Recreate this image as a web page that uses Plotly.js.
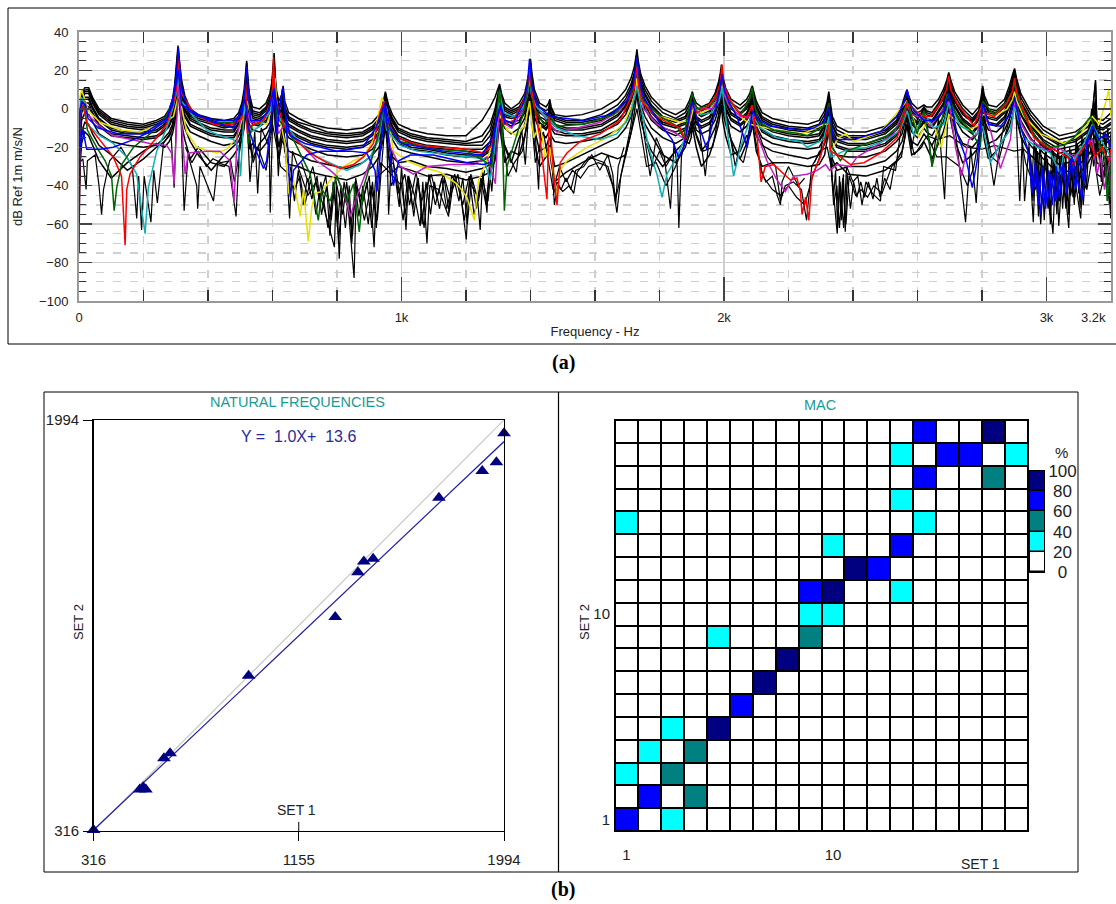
<!DOCTYPE html>
<html><head><meta charset="utf-8">
<script src="https://cdn.plot.ly/plotly-3.0.1.min.js"></script>
<style>html,body{margin:0;padding:0;background:#fff}#c{width:1116px;height:904px}</style>
</head><body><div id="c"></div>
<script>
// Frequency lines shared by the black response bundle
const bundleHz=[0,3,8,18,30,42,62,100,150,200,240, 265,280,290,297,302,307,312,318,328,345,370, 410,450,480, 495,505,512,517,520,523,528,538, 560,580, 592,598,602,605,608,613,620, 628,633,638, 650,680,720,770,830,880, 910,930,940,946,950,954,960,972,990, 1030,1080,1140,1200,1250, 1275,1290,1298,1304,1310,1320,1340, 1365,1382,1392,1397,1400,1404,1412,1428, 1448,1456,1460,1464,1475, 1510,1560,1620,1670, 1695,1712,1722,1727,1730,1734,1742,1755,1775, 1810,1850,1880, 1892,1898,1902,1906,1914,1930, 1955,1972,1983,1989,1992,1996,2005,2022, 2050,2070, 2080,2085,2088,2092,2100,2118, 2150,2200,2260,2295, 2312,2320,2325,2329,2336,2350, 2385,2440,2500,2535, 2552,2561,2567,2572,2582,2600, 2612,2620,2628,2645, 2665,2680,2691,2697,2703,2715,2740, 2770,2790, 2797,2802,2807,2820,2845, 2870,2885,2895,2901,2907,2920,2950, 2990,3040,3090,3130, 3142,3152,3156,3175,3200];
const bundleA=[-25,-2,8,11,11,6,0,-5,-7,-8,-6, -4,0,5,13,22,33,24,15,7,0,-3, -5,-6,-5, -2,3,10,18,25,18,8,1, 0,3, 8,14,21,29,18,9,4, 7,12,4, -2,-5,-8,-10,-11,-10, -7,-3,1,5,9,6,2,-3,-8, -11,-13,-14,-14,-6, 1,6,10,13,8,3,0, 3,8,15,20,26,19,10,3, 1,3,5,1,-3, -4,-3,0,5, 10,16,22,27,31,25,18,12,6, 0,-3,0, 4,7,9,6,3,1, 3,8,14,19,23,17,11,5, 2,5, 8,11,12,9,4,-2, -5,-7,-8,-6, -1,4,9,4,-4,-9, -12,-12,-9,-4, 2,7,10,7,3,0, 1,2,1,1, 5,10,15,19,15,9,2, -3,1, 6,12,7,2,1, 5,12,18,21,16,8,-1, -9,-14,-12,-7, -3,15,-5,-6,-2];
const bundleB=[-35,-4,6,10,10,5,-1,-6,-8,-9,-7, -5,-2,3,11,20,31,22,13,5,-2,-4, -6,-8,-7, -4,1,8,16,24,15,6,-1, -2,1, 6,12,19,27,15,7,2, 4,9,1, -4,-7,-9,-12,-13,-12, -9,-5,-1,3,8,5,0,-5,-10, -13,-15,-16,-17,-14, -8,0,7,12,6,1,-1, 1,6,13,18,24,17,8,1, -1,0,3,0,-4, -6,-6,-3,2, 7,13,19,25,29,23,16,10,4, -2,-5,-2, 2,5,8,4,1,-1, 1,6,12,17,21,15,9,3, 0,3, 6,9,11,7,2,-4, -7,-9,-10,-8, -3,2,7,2,-6,-11, -14,-14,-11,-6, 0,5,9,5,1,-2, -1,1,-1,-2, 3,8,13,18,13,7,0, -5,-1, 4,11,5,0,-1, 3,10,16,20,14,6,-3, -11,-16,-14,-9, -5,5,-7,-8,-5];
const bundleBC=[-40,-5,5,9,9,4,-2,-7,-9,-10,-8, -6,-3,2,10,18,29,20,11,3,-3,-5, -7,-9,-8, -5,0,6,14,22,13,4,-2, -3,0, 4,10,17,25,13,5,1, 3,7,-1, -5,-8,-11,-13,-14,-13, -10,-6,-2,2,7,4,-1,-6,-11, -14,-16,-17,-18,-17, -11,-2,5,10,5,0,-2, 0,5,12,17,23,15,6,-1, -3,-2,1,-2,-5, -7,-7,-5,0, 5,11,17,23,27,21,14,8,2, -4,-6,-4, 0,3,7,3,-1,-3, -1,4,10,15,19,13,7,1, -2,1, 4,7,10,6,1,-5, -8,-10,-11,-10, -5,1,6,1,-8,-13, -15,-15,-12,-7, -2,3,8,4,-1,-4, -2,0,-2,-3, 2,6,12,17,12,5,-2, -6,-2, 3,10,4,-1,-2, 2,8,14,19,13,4,-5, -13,-18,-16,-11, -6,2,-9,-10,-7];
const bundleC=[-45,-7,4,8,8,3,-3,-8,-10,-11,-9, -7,-4,1,9,17,28,19,10,2,-4,-6, -8,-10,-9, -6,-1,5,13,21,12,3,-3, -4,-1, 3,9,16,24,12,4,0, 2,6,-2, -6,-9,-12,-14,-15,-14, -11,-7,-3,1,6,3,-2,-7,-12, -15,-17,-18,-19,-19, -14,-5,3,9,4,-1,-3, -1,4,11,16,22,14,5,-2, -4,-3,-1,-3,-6, -8,-8,-6,-1, 4,10,16,22,26,20,13,7,1, -5,-7,-5, -1,2,6,2,-2,-4, -2,3,9,14,18,12,6,0, -3,0, 3,6,9,5,0,-6, -9,-11,-12,-11, -6,0,5,0,-9,-14, -16,-16,-13,-8, -3,2,7,3,-2,-5, -3,-1,-3,-4, 1,5,11,16,11,4,-3, -7,-3, 2,9,3,-2,-3, 1,7,13,18,12,3,-6, -14,-19,-17,-12, -7,0,-10,-11,-8];
const bundleCD=[-50,-9,2,6,6,1,-5,-10,-12,-12,-11, -8,-5,-1,7,15,26,17,8,0,-5,-7, -10,-11,-11, -7,-3,3,11,19,10,1,-4, -5,-3, 1,7,14,22,10,2,-2, 0,4,-4, -8,-11,-14,-16,-17,-16, -13,-9,-5,-1,4,1,-4,-9,-14, -17,-19,-20,-21,-21, -17,-7,1,7,2,-3,-4, -3,2,9,14,20,12,3,-4, -6,-5,-3,-5,-8, -10,-10,-8,-3, 2,8,14,20,24,18,11,5,-1, -7,-9,-7, -3,0,5,0,-4,-6, -4,1,7,12,16,10,4,-2, -5,-2, 1,4,7,3,-2,-8, -11,-13,-14,-13, -8,-2,3,-3,-11,-16, -18,-18,-15,-10, -5,0,6,1,-4,-7, -5,-3,-5,-6, -1,3,9,14,9,2,-5, -9,-5, 0,7,1,-4,-5, -1,5,11,16,9,1,-8, -16,-21,-19,-14, -9,-3,-12,-13,-10];
const bundleD=[-55,-10,1,5,5,0,-6,-11,-13,-13,-12, -9,-6,-2,6,14,25,15,7,-1,-6,-8, -11,-12,-12, -8,-4,2,10,18,9,0,-5, -6,-4, 0,6,13,21,9,1,-3, -1,3,-5, -9,-12,-15,-17,-18,-17, -14,-10,-6,-2,3,0,-5,-10,-15, -18,-20,-21,-22,-23, -19,-9,0,6,1,-4,-5, -4,1,8,13,18,11,2,-5, -8,-6,-5,-7,-9, -11,-11,-9,-4, 1,7,13,19,23,16,10,4,-2, -8,-10,-8, -4,-1,4,-1,-5,-7, -5,0,6,11,15,9,3,-3, -6,-3, 0,3,6,2,-3,-9, -12,-14,-15,-14, -9,-3,2,-4,-13,-17, -19,-19,-16,-11, -7,-1,5,0,-5,-8, -6,-4,-6,-7, -2,2,8,13,8,1,-6, -10,-6, -1,6,0,-5,-6, -2,4,10,15,8,0,-9, -17,-23,-21,-15, -10,-6,-14,-15,-12];
const bundleDE=[-60,-12,0,3,3,-2,-8,-13,-14,-15,-14, -11,-8,-4,4,12,23,13,5,-3,-8,-10, -13,-14,-14, -10,-6,0,8,16,7,-2,-7, -8,-6, -2,4,11,19,7,0,-5, -3,1,-7, -11,-14,-17,-19,-20,-19, -16,-12,-8,-4,1,-2,-7,-12,-17, -20,-21,-23,-24,-24, -21,-11,-2,4,-1,-6,-7, -6,-1,6,11,16,9,0,-7, -10,-8,-7,-9,-11, -13,-13,-11,-6, -1,5,11,17,21,14,8,2,-4, -10,-12,-10, -6,-3,2,-2,-7,-9, -7,-2,4,9,13,7,1,-5, -8,-5, -2,1,4,0,-5,-11, -14,-16,-17,-16, -11,-5,0,-6,-15,-19, -21,-21,-18,-13, -9,-3,3,-2,-7,-10, -8,-6,-8,-9, -4,0,6,11,6,-1,-8, -12,-8, -3,4,-2,-7,-8, -4,2,8,13,6,-2,-11, -19,-25,-23,-17, -12,-8,-16,-17,-14];
const bundleE=[-65,-14,-2,2,1,-3,-9,-14,-15,-16,-15, -12,-9,-5,3,11,21,12,3,-4,-9,-11, -14,-15,-15, -11,-7,-1,7,15,5,-4,-8, -9,-7, -3,3,10,18,5,-2,-6, -4,0,-8, -12,-15,-18,-20,-21,-20, -17,-13,-9,-5,0,-3,-8,-13,-18, -21,-22,-24,-25,-25, -22,-13,-4,3,-2,-7,-9, -7,-2,5,10,15,8,-1,-8, -11,-9,-8,-10,-13, -14,-14,-12,-8, -3,4,10,15,19,13,6,0,-6, -11,-14,-11, -7,-4,1,-3,-8,-10, -8,-3,3,8,12,5,0,-6, -9,-6, -3,0,3,-1,-6,-12, -15,-17,-18,-17, -12,-6,-1,-7,-16,-20, -22,-22,-19,-14, -10,-4,2,-3,-8,-11, -9,-7,-9,-10, -5,-1,5,10,5,-2,-9, -13,-9, -4,3,-3,-8,-9, -5,1,7,12,5,-3,-12, -20,-26,-24,-18, -13,-10,-18,-19,-16];
const bundleF=[-75,-18,-6,-2,-3,-7,-13,-17,-19,-20,-19, -15,-12,-8,0,7,17,8,0,-7,-12,-14, -17,-19,-18, -14,-10,-4,4,11,1,-8,-11, -12,-10, -7,0,6,14,2,-6,-9, -8,-3,-11, -15,-18,-21,-24,-25,-24, -21,-16,-12,-8,-3,-6,-11,-16,-21, -23,-25,-27,-28,-27, -25,-17,-8,-1,-5,-10,-13, -10,-5,2,7,12,5,-4,-11, -15,-12,-11,-14,-17, -18,-17,-15,-11, -7,0,6,11,15,9,2,-4,-10, -15,-18,-15, -11,-7,-2,-6,-11,-13, -11,-6,0,5,9,2,-3,-9, -12,-9, -6,-3,0,-4,-9,-15, -18,-20,-21,-20, -15,-9,-4,-10,-20,-24, -25,-25,-22,-17, -13,-7,-1,-6,-12,-15, -12,-10,-12,-14, -8,-4,2,7,2,-5,-12, -16,-12, -7,0,-6,-11,-12, -8,-2,4,9,2,-6,-15, -23,-29,-27,-20, -16,-14,-22,-23,-20];
const bundleG=[-30,-25,-12,-7,-8,-13,-19,-24,-32,-26,-20, -17,-14,-10,-3,5,14,5,-3,-10,-17,-24, -32,-24,-19, -17,-13,-7,1,8,-2,-16,-26, -18,-14, -10,-4,3,11,-3,-12,-20, -13,-7,-16, -22,-24,-27,-29,-31,-28, -24,-20,-15,-11,-6,-9,-16,-25,-28, -27,-30,-31,-33,-31, -29,-22,-12,-4,-10,-20,-28, -15,-8,-2,3,9,1,-10,-22, -20,-16,-15,-20,-30, -28,-24,-19,-15, -10,-4,3,8,12,6,-1,-8,-14, -24,-28,-20, -14,-11,-5,-9,-14,-22, -16,-10,-4,2,6,-1,-8,-16, -26,-18, -10,-7,-3,-7,-14,-19, -22,-24,-26,-24, -18,-12,-7,-14,-26,-32, -30,-30,-27,-22, -17,-11,-4,-10,-17,-19, -15,-13,-15,-19, -12,-7,-1,4,-2,-10,-18, -20,-16, -10,-3,-10,-18,-16, -11,-5,1,6,-1,-10,-19, -26,-34,-31,-24, -20,-18,-28,-30,-26];
const bundleH=[-45,-30,-18,-12,-14,-19,-27,-36,-28,-22,-18, -20,-17,-13,-7,1,10,1,-8,-16,-26,-20, -28,-30,-24, -20,-16,-10,-2,4,-6,-21,-18, -22,-18, -13,-8,-1,7,-8,-17,-26, -18,-11,-22, -29,-30,-33,-35,-37,-34, -30,-25,-19,-14,-10,-14,-24,-33,-30, -32,-35,-34,-37,-35, -33,-27,-17,-8,-16,-28,-22, -24,-14,-6,-1,6,-3,-18,-30, -25,-20,-19,-28,-38, -33,-28,-23,-26, -24,-12,-2,4,8,2,-6,-14,-22, -30,-22,-17, -18,-15,-9,-13,-20,-30, -24,-15,-8,-2,2,-6,-14,-24, -22,-14, -14,-11,-6,-12,-22,-30, -28,-28,-30,-29, -24,-16,-11,-18,-30,-28, -34,-35,-32,-27, -22,-15,-8,-14,-24,-22, -20,-17,-20,-26, -18,-12,-5,1,-6,-16,-28, -24,-20, -14,-7,-16,-26,-22, -15,-9,-3,2,-5,-14,-24, -30,-38,-36,-28, -24,-24,-34,-36,-30];
// Black curves with their own notches: flat lists of Hz, dB pairs
const deepA=[2,-28,12,-26,22,-42,26,-27,50,-24,62,-40,70,-55,76,-42,95,-27,130,-20,165,-30,179,-57,185,-35,194,-63,202,-35,223,-59,232,-32,243,-49,262,-18,285,-12,295,-41,302,-5,308,10,316,-3,326,-53,338,-24,365,-40,368,-52,375,-30,417,-48,430,-28,465,-30,487,-56,498,-18,515,5,524,-15,530,-38,545,-12,554,-44,565,-10,590,-20,593,-54,603,12,612,-8,618,-35,625,-15,640,-20,653,-57,662,-22,690,-35,710,-45,735,-38,760,-52,792,-72,798,-40,807,-78,815,-42,835,-52,853,-88,860,-40,880,-48,900,-35,915,-72,925,-30,945,0,955,-18,960,-55,970,-22,993,-51,1000,-30,1014,-63,1022,-35,1040,-45,1058,-61,1066,-38,1079,-70,1088,-40,1115,-42,1146,-56,1155,-35,1180,-40,1201,-68,1210,-38,1235,-45,1244,-63,1252,-33,1265,-54,1272,-30,1280,-43,1298,-2,1305,8,1318,-18,1335,-25,1356,-33,1372,-10,1384,-29,1400,15,1412,-5,1425,-42,1432,-10,1452,-8,1458,2,1466,-25,1474,-50,1484,-40,1500,-43,1520,-40,1534,-44,1545,-33,1580,-25,1630,-28,1655,-40,1668,-54,1680,-35,1710,-10,1730,15,1745,-5,1771,-35,1790,-15,1815,-25,1834,-52,1845,-18,1855,-30,1860,-62,1868,-25,1890,-8,1902,5,1925,-12,1942,-35,1958,-8,1992,15,2010,-5,2035,-30,2060,-10,2088,8,2105,-12,2135,-25,2160,-30,2175,-48,2190,-40,2215,-38,2240,-42,2256,-58,2272,-30,2300,-22,2325,3,2335,-35,2351,-65,2360,-38,2371,-62,2380,-30,2400,-38,2415,-35,2428,-50,2440,-38,2460,-44,2485,-48,2495,-30,2532,-32,2545,-15,2567,5,2581,-21,2600,-5,2630,-8,2645,-30,2665,-5,2684,-47,2697,10,2720,-15,2749,-59,2765,-20,2782,-49,2802,8,2815,-15,2837,-40,2860,-15,2901,15,2917,-48,2925,-15,2932,-48,2945,-20,2959,-59,2968,-20,2982,-60,2995,-25,3020,-65,3030,-25,3038,-61,3050,-30,3069,-62,3078,-25,3106,-57,3118,-20,3142,-2,3152,14,3158,-20,3175,-35,3188,-25,3199,-57,3200,-30];
const deepB=[330,-20,350,-28,370,-22,395,-30,415,-26,440,-28,470,-27,482,-38,500,-20,519,-2,540,-28,555,-20,580,-32,600,-8,625,-30,650,-34,668,-42,685,-35,700,-50,718,-37,735,-55,750,-38,772,-62,790,-40,805,-68,822,-38,842,-60,865,-42,885,-58,905,-40,925,-58,940,-25,950,-5,968,-40,985,-34,1005,-58,1020,-35,1035,-52,1050,-36,1070,-62,1085,-34,1105,-50,1125,-36,1140,-52,1165,-34,1190,-50,1210,-35,1225,-55,1250,-36,1268,-48,1285,-20,1305,-5,1330,-35,1350,-28,1375,-22,1400,2,1415,-28,1440,-12,1470,-42,1490,-30,1510,-38,1530,-32,1555,-36,1580,-30,1610,-28,1640,-30,1665,-46,1690,-28,1730,0,1760,-30,1790,-28,1820,-40,1850,-30,1902,-8,1935,-22,1965,-20,1992,5,2030,-22,2060,-28,2088,-8,2120,-35,2150,-42,2175,-45,2200,-40,2225,-46,2250,-50,2275,-35,2325,-12,2340,-50,2350,-40,2358,-62,2368,-36,2378,-60,2388,-35,2408,-45,2425,-42,2445,-46,2465,-40,2490,-44,2520,-30,2550,-25,2567,-8,2590,-24,2630,-14,2660,-25,2690,-25,2730,-30,2755,-40,2775,-30,2802,-2,2830,-25,2850,-28,2901,5,2935,-28,2965,-42,2985,-30,3005,-52,3015,-32,3040,-48,3055,-28,3075,-45,3090,-30,3125,-42,3145,-22,3165,-45,3185,-30,3195,-50];
const flatTail=[2630,-14,2660,-16,2700,-14,2750,-20,2800,-21,2840,-19,2880,-21,2899,-22,2930,-21,2950,-25,2962,-44,2972,-22,2985,-50,2995,-24,3010,-55,3022,-26,3035,-50,3046,-24,3060,-52,3072,-26,3088,-46,3100,-20,3114,-50,3130,-14,3140,0,3150,-24,3165,-8,3175,-40,3190,-10,3200,-34];
const noiseA=[690,-28,710,-38,725,-30,745,-47,765,-35,782,-58,795,-36,818,-55,830,-38,848,-66,858,-36,875,-52,893,-38,908,-62,920,-36,975,-28,990,-44,1010,-34,1025,-50,1045,-33,1062,-48,1092,-34,1110,-46,1130,-34,1150,-46,1175,-34,1195,-58,1215,-34,1238,-48,1258,-32];
const noiseB=[655,-30,668,-48,680,-32,695,-50,708,-36,722,-47,738,-35,752,-55,768,-40,778,-66,788,-38,802,-60,812,-40,826,-62,838,-40,846,-70,856,-38,868,-56,880,-40,897,-60,910,-38,922,-62,935,-28,1000,-40,1012,-55,1024,-36,1038,-56,1052,-36,1064,-60,1076,-38,1090,-55,1102,-38,1118,-52,1132,-36,1148,-54,1162,-36,1178,-48,1190,-36,1204,-60,1218,-36,1232,-52,1246,-36,1262,-50,1275,-30];
const noiseC=[2280,-28,2296,-22,2320,-20,2332,-30,2340,-45,2346,-32,2352,-62,2358,-35,2364,-58,2370,-34,2376,-64,2382,-34,2392,-52,2402,-38,2412,-46,2424,-38,2436,-46,2448,-38,2462,-47,2474,-36,2484,-46,2498,-36,2515,-42,2530,-28];
const noiseD=[2950,-25,2958,-48,2966,-20,2975,-56,2984,-24,2993,-58,3003,-26,3012,-60,3022,-22,3032,-55,3041,-25,3050,-52,3060,-24,3068,-55,3076,-22,3086,-50,3096,-18,3104,-52,3114,-16,3124,-42,3134,-8,3146,-30,3160,-12,3170,-38,3182,-15,3194,-45,3200,-18];
const noiseE=[2945,-18,2954,-40,2962,-16,2972,-46,2980,-18,2990,-40,2998,-18,3008,-48,3018,-20,3027,-46,3036,-18,3046,-44,3056,-18,3064,-48,3072,-20,3082,-46,3092,-16,3100,-44,3110,-14,3120,-36,3130,-10,3138,-24,3154,-10,3166,-30,3178,-12,3190,-36,3200,-12];
const noiseF=[1470,-45,1482,-38,1495,-42,1510,-36,1525,-42,1540,-32,1565,-30,1590,-24,1615,-32,1640,-24,1655,-34,1664,-50,1672,-30,1690,-20];
const noiseG=[1760,-18,1780,-30,1800,-22,1820,-30,1840,-24];
const noiseH=[2110,-30,2130,-38,2150,-35,2165,-45,2175,-50,2180,-38,2200,-30,2230,-40,2250,-36];
const yellow=[0,-50,2,5,8,10,19,4,29,-1,65,-7,127,-11,189,-12,251,-8,293,-4,308,7,313,5,334,-12,365,-20,427,-23,458,-21,489,-15,510,-3,522,4,536,-6,582,-8,598,0,604,7,608,16,612,5,618,-2,639,-18,650,-44,665,-37,686,-56,696,-42,711,-69,722,-51,732,-44,753,-43,779,-37,820,-30,851,-27,882,-25,913,-16,939,6,954,0,975,-22,1016,-27,1058,-30,1120,-33,1172,-39,1203,-46,1226,-58,1239,-37,1260,-29,1286,-16,1304,-3,1327,-11,1358,-14,1384,-8,1397,4,1410,-15,1430,-8,1446,-25,1460,-20,1482,-46,1492,-32,1513,-27,1575,-20,1637,-15,1689,-8,1715,2,1725,8,1730,16,1735,9,1746,4,1803,-4,1864,-7,1896,-6,1906,1,1916,-3,1958,0,1980,5,1988,8,1994,13,2000,8,2014,4,2051,-4,2081,-8,2133,-10,2237,-13,2258,-12,2309,-8,2325,-8,2330,-22,2356,-15,2377,-13,2402,-17,2485,-12,2537,-2,2566,4,2589,-6,2604,-15,2630,-6,2656,-11,2673,-20,2697,-3,2754,-11,2785,-9,2802,-3,2837,-4,2878,0,2895,5,2901,9,2908,4,2930,-4,2982,-13,3054,-18,3106,-13,3142,-4,3163,-8,3183,3,3193,10,3200,-4];
const magenta=[0,-40,2,-5,8,1,19,4,26,-3,65,-9,106,-14,169,-16,220,-18,272,-19,287,-23,295,-39,303,-1,308,13,313,4,329,-34,339,-23,396,-22,437,-22,468,-27,481,-48,491,-13,515,4,530,-7,572,-6,598,-1,605,11,618,-13,634,-9,686,-18,737,-27,779,-32,799,-35,831,-49,841,-56,856,-48,882,-37,913,-23,933,-9,946,2,965,-20,996,-30,1037,-34,1079,-30,1151,-29,1224,-29,1265,-25,1291,-39,1304,3,1322,-8,1342,-10,1378,0,1390,7,1397,17,1403,7,1420,1,1451,-6,1482,-12,1544,-10,1616,-7,1678,-1,1709,8,1723,13,1730,22,1736,12,1751,0,1792,-8,1854,-13,1880,-16,1901,1,1927,0,1963,0,1985,7,1994,17,2001,7,2014,2,2051,-4,2087,-4,2102,-13,2133,-27,2164,-37,2190,-43,2216,-35,2258,-34,2289,-32,2315,-29,2328,-32,2351,-29,2392,-30,2413,-25,2464,-20,2527,-13,2566,2,2583,-3,2620,-5,2640,-9,2677,-1,2697,4,2718,-20,2736,-35,2759,-16,2785,-13,2801,1,2826,-11,2857,-31,2888,-16,2901,4,2925,-9,2950,-16,3002,-22,3033,-20,3085,-25,3116,-20,3142,-16,3157,-34,3168,-25,3180,-42,3193,-29,3200,-25];
const cyan=[0,-55,3,0,8,6,19,2,26,-8,65,-14,106,-18,148,-25,179,-34,205,-65,215,-41,241,-22,272,-10,292,1,303,9,308,17,313,9,318,4,355,-4,396,-11,437,-14,479,-16,494,-20,501,-35,515,8,525,-13,562,-9,593,-1,603,14,613,-3,644,-9,686,-18,737,-25,789,-29,830,-32,872,-29,903,-25,929,-16,944,-1,954,-11,996,-19,1048,-22,1099,-23,1203,-25,1255,-26,1275,-37,1291,-18,1304,9,1317,-2,1348,-4,1378,1,1390,7,1397,15,1403,8,1410,3,1441,-3,1482,-10,1544,-14,1616,-16,1668,-13,1709,-4,1730,12,1746,-2,1766,-20,1792,-34,1808,-46,1823,-34,1854,-25,1885,-13,1901,3,1927,-3,1963,-2,1985,4,1994,11,2014,-16,2030,-35,2051,-20,2087,-3,2113,-10,2164,-15,2237,-17,2258,-20,2309,-16,2325,-4,2332,-25,2371,-22,2444,-20,2506,-16,2547,-11,2568,-1,2589,-14,2620,-2,2650,-10,2682,-8,2697,3,2733,-9,2785,-13,2802,-9,2826,-28,2857,-18,2888,-11,2901,1,2930,-15,2971,-20,3012,-23,3044,-34,3054,-22,3085,-27,3116,-18,3142,-8,3168,-16,3200,-25];
const green=[0,-45,3,-6,8,0,16,2,26,-11,55,-20,81,-27,101,-35,109,-53,117,-41,132,-29,169,-20,220,-13,272,-4,293,6,303,13,308,22,313,13,318,8,355,-2,417,-7,479,-7,505,-3,518,9,525,-18,536,-9,572,-6,593,2,600,9,603,20,608,6,613,-4,634,-9,665,-16,691,-25,717,-34,742,-58,753,-42,779,-48,799,-35,831,-48,851,-39,869,-64,882,-41,903,-29,929,-13,944,1,954,-9,996,-17,1099,-21,1203,-22,1255,-27,1280,-30,1291,-9,1304,10,1311,-4,1319,-53,1327,-30,1353,-16,1378,-2,1390,8,1397,20,1403,9,1410,1,1441,-8,1461,-4,1482,-9,1565,-8,1658,-3,1709,6,1723,14,1730,25,1737,14,1751,4,1803,-4,1854,-9,1875,-15,1901,8,1916,0,1958,2,1985,8,1994,15,2002,9,2014,5,2051,-3,2080,5,2087,11,2095,2,2108,-7,2154,-11,2237,-13,2258,-14,2309,-9,2325,3,2335,-20,2361,-27,2382,-22,2444,-18,2506,-14,2547,-8,2568,4,2599,-13,2620,-1,2635,-16,2645,-30,2661,-18,2692,8,2723,-4,2764,-11,2795,-20,2802,4,2837,-3,2878,4,2894,9,2901,13,2908,7,2930,-3,2971,-16,3012,-20,3054,-19,3085,-15,3137,-4,3157,-15,3183,-27,3188,-48,3200,-27];
const red=[0,-75,1,-10,3,0,8,1,13,1,26,-8,65,-16,106,-25,132,-35,143,-71,148,-42,158,-34,189,-25,241,-15,272,-8,293,3,302,10,308,27,313,12,318,8,355,-2,417,-8,479,-8,505,-5,517,13,522,-13,530,-9,572,-6,593,3,600,10,603,27,606,12,611,4,634,-8,665,-15,717,-23,768,-28,810,-31,851,-29,882,-25,913,-18,933,-2,946,4,954,-6,985,-15,1037,-18,1058,-19,1120,-20,1203,-21,1255,-23,1280,-19,1296,-5,1304,0,1317,-8,1348,-6,1378,4,1390,11,1397,22,1402,12,1410,4,1430,-16,1451,-47,1456,-16,1458,-3,1463,-13,1472,-34,1482,-50,1492,-28,1513,-23,1554,-17,1616,-13,1678,-6,1720,9,1730,22,1735,12,1745,4,1782,-3,1823,-7,1864,-10,1880,-16,1901,3,1916,-2,1947,1,1973,6,1988,13,1994,23,1999,13,2014,6,2051,-3,2071,-5,2087,2,2102,-13,2115,-38,2128,-30,2154,-29,2185,-34,2206,-37,2226,-36,2237,-43,2242,-55,2253,-46,2263,-58,2273,-35,2299,-25,2325,-8,2330,-22,2361,-25,2392,-29,2434,-28,2485,-23,2537,-15,2558,-4,2568,3,2594,-1,2620,-4,2640,-4,2671,3,2690,10,2697,17,2703,10,2723,3,2775,-9,2802,3,2808,-2,2837,-4,2878,3,2894,9,2901,16,2907,9,2925,1,2961,-15,3002,-20,3033,-22,3064,-25,3085,-29,3100,-24,3131,-16,3152,-25,3173,-20,3193,-27,3200,-21];
const blueLow=[0,-60,2,-12,5,-20,12,-10,20,-18,24,-21,65,-21,106,-20,169,-16,220,-12,272,-6,298,10,308,20,318,2,400,-6,480,-10,515,5,525,-10,545,-20,567,-29,572,-31,582,-27,595,-8,605,10,618,-3,632,11,642,-5,655,-46,665,-32,706,-24,748,-22,841,-22,892,-23,918,-32,924,-43,934,-23,949,2,965,-25,975,-40,991,-27,1027,-24,1099,-24,1203,-28,1255,-29,1275,-28,1296,-5,1306,1,1322,-8];
const blueTop=[0,-40,3,-2,8,4,20,2,28,-5,60,-10,120,-13,200,-13,272,-5,290,2,298,13,303,20,308,32,313,20,318,11,339,-1,375,-4,427,-6,479,-6,505,-3,514,9,520,22,526,6,533,-6,562,-6,587,-1,605,11,613,-13,621,-1,632,11,642,-5,655,-14,700,-18,800,-22,880,-20,920,-10,949,3,965,-10,1000,-18,1130,-22,1250,-24,1285,-14,1306,2,1322,-6,1345,-8,1378,3,1390,12,1397,26,1404,12,1420,2,1461,-4,1565,-6,1647,-3,1699,4,1718,12,1730,27,1740,13,1751,6,1803,-8,1839,-16,1859,-25,1875,-20,1901,4,1927,-11,1947,-21,1968,-4,1985,8,1994,18,2002,9,2014,4,2040,-4,2072,-20,2088,-1,2108,-6,2144,-9,2237,-11,2278,-10,2309,-7,2325,1,2340,-16,2366,-16,2397,-16,2485,-12,2537,-4,2560,4,2568,10,2577,3,2589,-1,2620,-6,2650,-6,2682,-1,2697,8,2723,-13,2749,-25,2770,-41,2785,-27,2802,3,2821,-8,2857,-9,2888,-3,2901,6,2919,-9,2940,-20,2961,-41,2971,-32,2982,-55,2992,-35,3002,-49,3015,-34,3028,-48,3044,-30,3064,-41,3080,-25,3095,-37,3111,-47,3126,-18,3142,-9,3163,-16,3183,-13,3200,-20];
const blueNoise=[2945,-22,2955,-44,2965,-28,2976,-50,2986,-30,2997,-52,3007,-32,3018,-50,3030,-30,3040,-46,3052,-28,3062,-44,3074,-26,3090,-42,3100,-24,3115,-38,3125,-16];
// Natural frequency correlation
const set1Hz=[316,505,519,530,604,629,950,1304,1397,1421,1459,1728,1905,1963,1994];
const set2Hz=[320,485,495,485,613,633,950,1190,1372,1416,1428,1677,1786,1821,1940];
const axisHz=[316,1994];
const fitHz=[320,1906];
// MAC matrix, rows from set 2 mode 1 upwards, percent bin centres
const mac=[
[70,0,30,0,0,0,0,0,0,0,0,0,0,0,0,0,0,0],
[0,70,0,50,0,0,0,0,0,0,0,0,0,0,0,0,0,0],
[30,0,50,0,0,0,0,0,0,0,0,0,0,0,0,0,0,0],
[0,30,0,50,0,0,0,0,0,0,0,0,0,0,0,0,0,0],
[0,0,30,0,90,0,0,0,0,0,0,0,0,0,0,0,0,0],
[0,0,0,0,0,70,0,0,0,0,0,0,0,0,0,0,0,0],
[0,0,0,0,0,0,90,0,0,0,0,0,0,0,0,0,0,0],
[0,0,0,0,0,0,0,90,0,0,0,0,0,0,0,0,0,0],
[0,0,0,0,30,0,0,0,50,0,0,0,0,0,0,0,0,0],
[0,0,0,0,0,0,0,0,30,30,0,0,0,0,0,0,0,0],
[0,0,0,0,0,0,0,0,70,90,0,0,30,0,0,0,0,0],
[0,0,0,0,0,0,0,0,0,0,90,70,0,0,0,0,0,0],
[0,0,0,0,0,0,0,0,0,30,0,0,70,0,0,0,0,0],
[30,0,0,0,0,0,0,0,0,0,0,0,0,30,0,0,0,0],
[0,0,0,0,0,0,0,0,0,0,0,0,30,0,0,0,0,0],
[0,0,0,0,0,0,0,0,0,0,0,0,0,70,0,0,50,0],
[0,0,0,0,0,0,0,0,0,0,0,0,30,0,70,70,0,30],
[0,0,0,0,0,0,0,0,0,0,0,0,0,70,0,0,90,0]];
const legendBins=[10,30,50,70,90];
const legendTicks=[0,20,40,60,80,100];
const modes=[1,2,3,4,5,6,7,8,9,10,11,12,13,14,15,16,17,18];

const W=1116,H=904;
const px=(a,b)=>[a/W,b/W];
const py=(top,bot)=>[1-bot/H,1-top/H];
const xs=p=>p.filter((v,i)=>i%2===0), ys=p=>p.filter((v,i)=>i%2===1);
const curve=(p,color,width)=>({type:'scatter',mode:'lines',x:xs(p),y:ys(p),xaxis:'x',yaxis:'y',hoverinfo:'skip',line:{color:color,width:width}});
const bundle=v=>({type:'scatter',mode:'lines',x:bundleHz,y:v,xaxis:'x',yaxis:'y',hoverinfo:'skip',line:{color:'#000',width:1.5}});
const macScale=[[0,'#ffffff'],[0.2,'#ffffff'],[0.2,'#00ffff'],[0.4,'#00ffff'],[0.4,'#008080'],[0.6,'#008080'],[0.6,'#0000ff'],[0.8,'#0000ff'],[0.8,'#000080'],[1,'#000080']];
const sans='"Liberation Sans",Arial,sans-serif';
const teal='#1a9a96', navy='#000080', tx='#222222';

const data=[
 ...[noiseH,noiseG,noiseF,noiseE,noiseD,noiseC,noiseB,noiseA,flatTail,deepB,deepA].map(p=>curve(p,'#000000',1.2)),
 ...[bundleH,bundleG,bundleF,bundleE,bundleDE,bundleD,bundleCD,bundleC,bundleBC,bundleB,bundleA].map(bundle),
 curve(yellow,'#e8e000',1.5),curve(magenta,'#c020c0',1.5),curve(cyan,'#10b0b8',1.5),curve(green,'#006400',1.5),curve(red,'#ff0000',1.5),curve(blueLow,'#0000ff',1.5),curve(blueNoise,'#0000ff',1.5),curve(blueTop,'#0000ff',1.5),
 {type:'scatter',mode:'lines',x:axisHz,y:axisHz,xaxis:'x2',yaxis:'y2',line:{color:'#c8c8c8',width:1.2},hoverinfo:'skip'},
 {type:'scatter',mode:'lines',x:axisHz,y:fitHz,xaxis:'x2',yaxis:'y2',line:{color:'#2020a0',width:1.2},hoverinfo:'skip'},
 {type:'scatter',mode:'markers',x:set1Hz,y:set2Hz,xaxis:'x2',yaxis:'y2',cliponaxis:false,marker:{symbol:'triangle-up',size:12,color:navy,line:{width:0}}},
 {type:'heatmap',z:mac,x:modes,y:modes,xaxis:'x3',yaxis:'y3',zmin:0,zmax:100,colorscale:macScale,showscale:false,xgap:2,ygap:2},
 {type:'heatmap',z:legendBins.map(v=>[v]),x:[0],y:legendBins,xaxis:'x4',yaxis:'y4',zmin:0,zmax:100,colorscale:macScale,showscale:false,ygap:1.5,xgap:0}
];

const note=(text,x,y,size,color,extra)=>Object.assign({text:text,x:x/W,y:1-y/H,xref:'paper',yref:'paper',showarrow:false,xanchor:'center',yanchor:'middle',font:{family:sans,size:size,color:color}},extra||{});
const frame=(x0,y0,x1,y1)=>({type:'rect',xref:'paper',yref:'paper',x0:x0/W,x1:x1/W,y0:1-y0/H,y1:1-y1/H,line:{color:'#000',width:1}});

const layout={
 width:W,height:H,margin:{l:0,r:0,t:0,b:0},paper_bgcolor:'#fff',plot_bgcolor:'#fff',showlegend:false,
 font:{family:sans,color:tx},
 xaxis:{domain:px(79,1111),range:[0,3200],tickmode:'array',tickvals:[0,1000,2000,3000],ticktext:['0','1k','2k','3k'],
  ticks:'inside',ticklen:24,tickwidth:1.5,tickcolor:'#444',mirror:'allticks',showline:true,linecolor:'#999',linewidth:2,
  showgrid:true,gridcolor:'#cfcfcf',gridwidth:1.5,zeroline:false,tickfont:{size:13,color:tx},ticklabelstandoff:3,
  title:{text:'Frequency - Hz',font:{size:13,color:tx},standoff:3},
  minor:{dtick:200,tick0:0,ticks:'inside',ticklen:11,tickwidth:1.2,tickcolor:'#333',showgrid:true,griddash:'8px,9px',gridcolor:'#cfcfcf',gridwidth:1.3}},
 yaxis:{domain:py(32,301),range:[-100,40],dtick:20,tick0:0,ticks:'inside',ticklen:13,tickwidth:1.3,tickcolor:'#444',mirror:'allticks',showline:true,linecolor:'#999',linewidth:2,
  showgrid:true,gridcolor:'#cfcfcf',gridwidth:1.5,zeroline:false,tickfont:{size:13,color:tx},ticklabelstandoff:6,
  minor:{dtick:5,tick0:0,ticks:'inside',ticklen:7,tickwidth:1,tickcolor:'#333',showgrid:true,griddash:'8px,9px',gridcolor:'#cfcfcf',gridwidth:1.3}},
 xaxis2:{domain:px(93.5,504),range:axisHz,tickmode:'array',tickvals:[316,1155,1994],ticks:'outside',ticklen:9,tickcolor:'#000',tickwidth:1,showline:true,linecolor:'#000',linewidth:1.3,mirror:true,showgrid:false,zeroline:false,anchor:'y2',tickfont:{size:15,color:tx},ticklabelstandoff:6},
 yaxis2:{domain:py(420,831),range:axisHz,tickmode:'array',tickvals:[316,1994],ticks:'outside',ticklen:9,tickcolor:'#000',tickwidth:1,showline:true,linecolor:'#000',linewidth:1.3,mirror:true,showgrid:false,zeroline:false,anchor:'x2',tickfont:{size:15,color:tx},ticklabelstandoff:1},
 xaxis3:{domain:px(615,1028),range:[0.5,18.5],tickmode:'array',tickvals:[1,10],ticks:'',showline:true,linecolor:'#000',linewidth:1,mirror:true,showgrid:false,zeroline:false,anchor:'y3',tickfont:{size:15,color:tx},ticklabelstandoff:10},
 yaxis3:{domain:py(420,831),range:[0.5,18.5],tickmode:'array',tickvals:[1,10],ticks:'',showline:true,linecolor:'#000',linewidth:1,mirror:true,showgrid:false,zeroline:false,anchor:'x3',tickfont:{size:15,color:tx},ticklabelstandoff:1},
 xaxis4:{domain:px(1030,1044),range:[-0.5,0.5],showticklabels:false,ticks:'',showline:true,linecolor:'#000',linewidth:1,mirror:true,showgrid:false,zeroline:false,anchor:'y4'},
 yaxis4:{domain:py(471,572),range:[0,100],side:'right',tickmode:'array',tickvals:legendTicks,ticktext:['\u00a0\u00a00','\u00a020','\u00a040','\u00a060','\u00a080','100'],ticks:'',showline:true,linecolor:'#000',linewidth:1,mirror:true,showgrid:false,zeroline:false,anchor:'x4',tickfont:{size:17,color:tx},ticklabelstandoff:0},
 shapes:[
  frame(8,8,1130,344),frame(44,392,1078,872),
  {type:'line',xref:'paper',yref:'paper',x0:558.5/W,x1:558.5/W,y0:1-392/H,y1:1-872/H,line:{color:'#000',width:1.2}},
  {type:'line',xref:'x2',yref:'y2',x0:1155,x1:1155,y0:316,y1:353,line:{color:'#000',width:1}},
  {type:'rect',xref:'x3',yref:'y3',x0:0.5,x1:18.5,y0:0.5,y1:18.5,layer:'below',fillcolor:'#000',line:{width:0}},
  {type:'rect',xref:'x4',yref:'y4',x0:-0.5,x1:0.5,y0:0,y1:100,layer:'below',fillcolor:'#000',line:{width:0}}
 ],
 annotations:[
  note('dB Ref 1m m/s/N',17,177,13,tx,{textangle:-90}),
  note('3.2k',1093,317,13,tx),
  note('<b>(a)</b>',563,362,20,'#000',{font:{family:'"Liberation Serif",serif',size:20,color:'#000'}}),
  note('<b>(b)</b>',563,889,20,'#000',{font:{family:'"Liberation Serif",serif',size:20,color:'#000'}}),
  note('NATURAL FREQUENCIES',297,402,14.5,teal),
  note('Y =\u00a0\u00a01.0X+\u00a0\u00a013.6',298,436,16,'#2a2a9a'),
  note('SET 1',296,810,14,tx),
  note('SET 2',78,622,13,tx,{textangle:-90}),
  note('MAC',820,405,14.5,teal),
  note('SET 1',980,864,14,tx),
  note('SET 2',584,622,13,tx,{textangle:-90}),
  note('%',1061,452,15,tx)
 ]
};
Plotly.newPlot('c',data,layout,{displayModeBar:false,staticPlot:true});
</script></body></html>
